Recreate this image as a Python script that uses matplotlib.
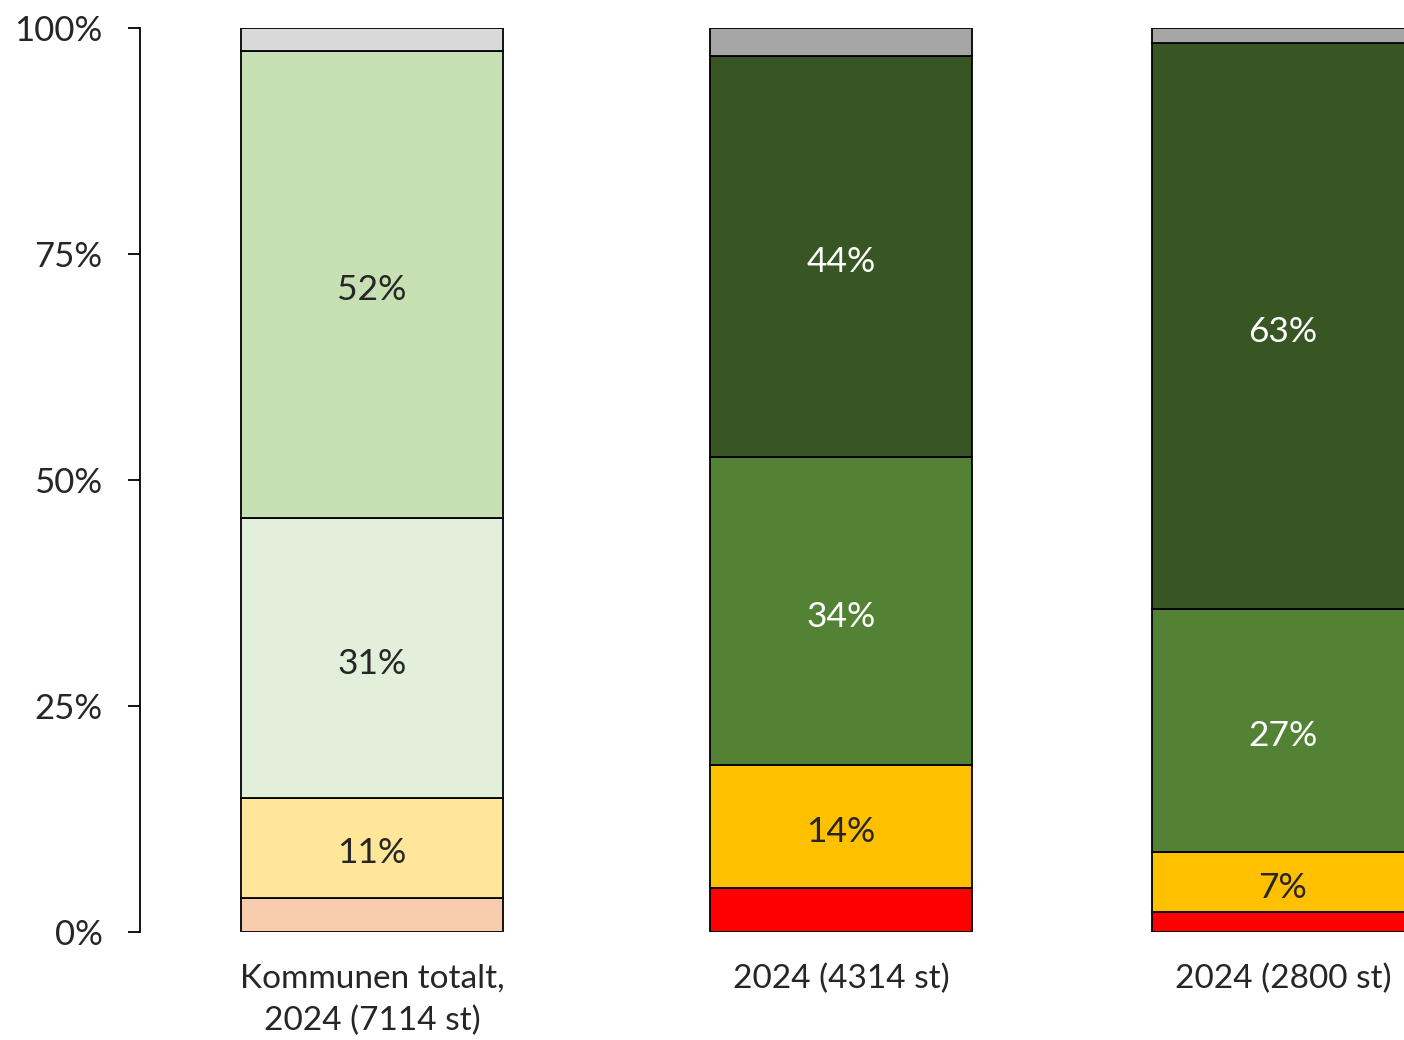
import matplotlib
matplotlib.use("Agg")
import matplotlib.pyplot as plt
import numpy as np

plt.rcParams['font.family'] = ['Lato', 'DejaVu Sans']

categories = ["Kommunen totalt,\n2024 (7114 st)", "2024 (4314 st)", "2024 (2800 st)"]
# segments from bottom to top (percent)
values = {
    "Kommunen totalt,\n2024 (7114 st)": [3.8, 11.0, 31.0, 51.7, 2.5],
    "2024 (4314 st)": [4.9, 13.6, 34.0, 44.4, 3.1],
    "2024 (2800 st)": [2.2, 6.6, 26.9, 62.6, 1.7],
}
colors = {
    "Kommunen totalt,\n2024 (7114 st)": ["#F8CBAD", "#FFE699", "#E2EFDA", "#C6E0B4", "#D9D9D9"],
    "2024 (4314 st)": ["#FF0000", "#FFC000", "#548235", "#375623", "#A6A6A6"],
    "2024 (2800 st)": ["#FF0000", "#FFC000", "#548235", "#375623", "#A6A6A6"],
}
label_colors = {
    "Kommunen totalt,\n2024 (7114 st)": ["#262626", "#262626", "#262626", "#262626", "#262626"],
    "2024 (4314 st)": ["white", "#262626", "white", "white", "white"],
    "2024 (2800 st)": ["white", "#262626", "white", "white", "white"],
}
positions = [0.0, 1.0, 1.942]
bar_width = 0.5586
min_label = 5

fig = plt.figure(figsize=(14.04, 10.40), dpi=100)
ax = fig.add_axes([140/1404, (1040-932)/1040, 1 - 140/1404, (932-28)/1040])

for cat, x in zip(categories, positions):
    bottom = 0.0
    for v, c, lc in zip(values[cat], colors[cat], label_colors[cat]):
        ax.bar(x, v, bottom=bottom, width=bar_width, color=c, edgecolor="black",
               linewidth=1.3, zorder=2)
        if v >= min_label:
            ax.annotate(f"{round(v):d}%", (x, bottom + v/2), xytext=(0, -4),
                        textcoords="offset points", ha="center", va="center",
                        fontsize=25.5, color=lc, zorder=3)
        bottom += v

ax.set_ylim(0, 100)
ax.set_xlim((140-372)/469, (1404-372)/469)
ax.set_yticks([0, 25, 50, 75, 100])
ax.set_yticklabels(["0%", "25%", "50%", "75%", "100%"])
ax.tick_params(axis="y", length=9, width=1.3, pad=18, labelsize=25, labelcolor="#262626", direction="out")
ax.set_xticks(positions)
ax.set_xticklabels(categories)
ax.tick_params(axis="x", length=0, pad=23, labelsize=24, labelcolor="#262626")
for t in ax.get_xticklabels():
    t.set_linespacing(1.5)

for s in ["top", "right", "bottom"]:
    ax.spines[s].set_visible(False)
ax.spines["left"].set_linewidth(1.3)
ax.patch.set_alpha(0)

fig.savefig("out.png", dpi=100)
